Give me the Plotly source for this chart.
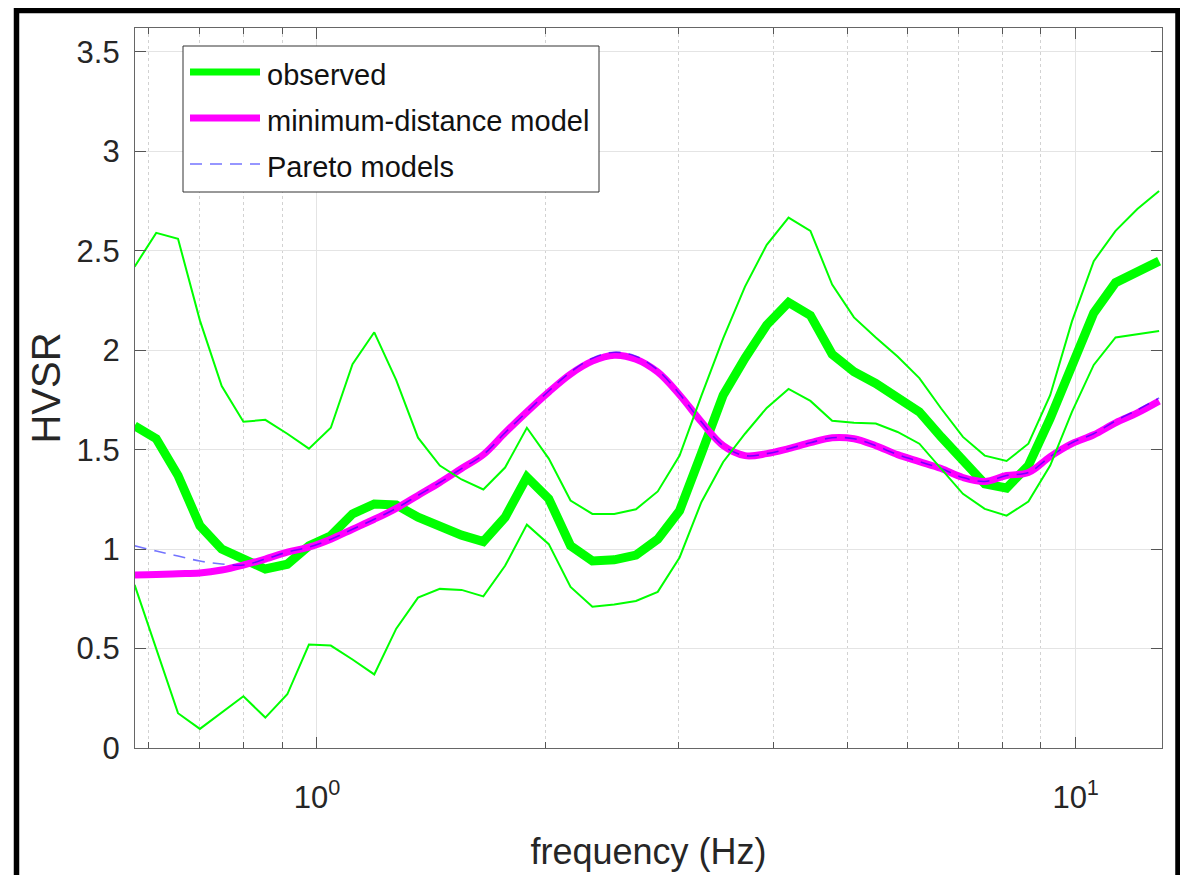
import plotly.graph_objects as go

freq = [0.575, 0.614, 0.656, 0.701, 0.749, 0.800, 0.855, 0.914, 0.976, 1.043,
        1.114, 1.190, 1.272, 1.359, 1.452, 1.551, 1.657, 1.770, 1.891, 2.021,
        2.159, 2.307, 2.465, 2.633, 2.813, 3.006, 3.211, 3.431, 3.666, 3.916,
        4.184, 4.471, 4.776, 5.103, 5.452, 5.825, 6.223, 6.649, 7.103, 7.589,
        8.109, 8.663, 9.256, 9.888, 10.564, 11.287, 12.059, 12.882]

# observed HVSR (mean) and its upper / lower bounds
hvsr_obs = [1.62, 1.555, 1.37, 1.118, 1.0, 0.95, 0.90, 0.924, 1.017, 1.067,
            1.177, 1.227, 1.222, 1.16, 1.11, 1.07, 1.038, 1.16, 1.362, 1.253,
            1.017, 0.94, 0.946, 0.97, 1.05, 1.193, 1.48, 1.774, 1.96, 2.127,
            2.24, 2.175, 1.98, 1.892, 1.833, 1.766, 1.69, 1.564, 1.438, 1.328,
            1.307, 1.42, 1.657, 1.926, 2.187, 2.34, 2.40, 2.448]
hvsr_upper = [2.42, 2.59, 2.56, 2.15, 1.82, 1.64, 1.65, 1.58, 1.505, 1.61,
              1.93, 2.09, 1.85, 1.56, 1.42, 1.35, 1.30, 1.41, 1.61, 1.455,
              1.244, 1.177, 1.177, 1.20, 1.29, 1.47, 1.77, 2.06, 2.32, 2.53,
              2.667, 2.60, 2.33, 2.165, 2.064, 1.968, 1.86, 1.707, 1.564, 1.47,
              1.443, 1.53, 1.774, 2.145, 2.448, 2.60, 2.71, 2.80]
hvsr_lower = [0.82, 0.50, 0.175, 0.096, 0.18, 0.26, 0.153, 0.27, 0.52, 0.515,
              0.445, 0.37, 0.60, 0.756, 0.80, 0.795, 0.762, 0.916, 1.123, 1.025,
              0.81, 0.71, 0.722, 0.739, 0.785, 0.958, 1.236, 1.438, 1.58, 1.71,
              1.805, 1.745, 1.645, 1.635, 1.631, 1.589, 1.53, 1.404, 1.278, 1.202,
              1.168, 1.239, 1.42, 1.69, 1.926, 2.064, 2.08, 2.097]

# minimum-distance model and Pareto models
hvsr_model = [0.87, 0.872, 0.876, 0.88, 0.895, 0.92, 0.95, 0.985, 1.01, 1.05,
              1.10, 1.15, 1.205, 1.27, 1.335, 1.405, 1.475, 1.585, 1.69, 1.79,
              1.88, 1.945, 1.975, 1.955, 1.89, 1.775, 1.64, 1.52, 1.47, 1.48,
              1.505, 1.535, 1.56, 1.555, 1.52, 1.475, 1.44, 1.405, 1.36, 1.34,
              1.37, 1.385, 1.465, 1.53, 1.575, 1.635, 1.685, 1.744]
hvsr_pareto = [1.017, 0.99, 0.965, 0.94, 0.925, 0.92, 0.95, 0.985, 1.01, 1.05,
               1.10, 1.15, 1.205, 1.27, 1.335, 1.405, 1.475, 1.585, 1.69, 1.795,
               1.89, 1.96, 1.99, 1.97, 1.90, 1.78, 1.64, 1.52, 1.47, 1.48,
               1.505, 1.535, 1.56, 1.555, 1.52, 1.475, 1.44, 1.405, 1.36, 1.34,
               1.37, 1.385, 1.465, 1.535, 1.58, 1.645, 1.70, 1.76]

legend_names = ['observed', 'minimum-distance model', 'Pareto models']

GREEN = '#00ff00'
MAGENTA = '#ff00ff'
BLUE = 'rgba(0,0,255,0.55)'
FONT = 'Liberation Sans, Arial, sans-serif'

fig = go.Figure()
fig.add_trace(go.Scatter(x=freq, y=hvsr_obs, mode='lines', line=dict(color=GREEN, width=9),
                         name=legend_names[0]))
fig.add_trace(go.Scatter(x=freq, y=hvsr_model, mode='lines', line=dict(color=MAGENTA, width=7, shape='spline'),
                         name=legend_names[1]))
fig.add_trace(go.Scatter(x=freq, y=hvsr_pareto, mode='lines',
                         line=dict(color=BLUE, width=1.6, dash='12px,8px', shape='spline'),
                         name=legend_names[2]))
fig.add_trace(go.Scatter(x=freq, y=hvsr_upper, mode='lines', line=dict(color=GREEN, width=2),
                         showlegend=False))
fig.add_trace(go.Scatter(x=freq, y=hvsr_lower, mode='lines', line=dict(color=GREEN, width=2),
                         showlegend=False))

# plot area in page pixels: left 135, right 1162, top 28, bottom 748
# (the page body adds an 8px margin all round, so the figure is 1172x867 at 8,8)
W, H = 1027.0, 720.0


def px(x):
    return (x - 135) / W


def py(y):
    return (748 - y) / H


shapes = []
annotations = []
# legend box drawn by hand (MATLAB style, long swatches)
shapes.append(dict(type='rect', xref='paper', yref='paper', x0=px(183), x1=px(599), y0=py(192), y1=py(46),
                   line=dict(color='#333333', width=1), fillcolor='white', layer='above'))
swatches = [(72, GREEN, 7, 'solid'), (118, MAGENTA, 7, 'solid'), (164, BLUE, 1.6, '12px,8px')]
for (yy, col, lw, dash), name in zip(swatches, legend_names):
    shapes.append(dict(type='line', xref='paper', yref='paper', x0=px(190), x1=px(260), y0=py(yy), y1=py(yy),
                       line=dict(color=col, width=lw, dash=dash), layer='above'))
    annotations.append(dict(xref='paper', yref='paper', x=px(265), y=py(yy + 3), xanchor='left', yanchor='middle',
                            text=name, showarrow=False, font=dict(family=FONT, size=29, color='#111111')))

# black frame around the picture
shapes.append(dict(type='rect', xref='paper', yref='paper', x0=px(16.5), x1=px(1178), y0=py(900), y1=py(10.5),
                   line=dict(color='black', width=5.5), layer='above'))

minor_vals = [0.6, 0.7, 0.8, 0.9, 2, 3, 4, 5, 6, 7, 8, 9]

fig.update_layout(
    width=1172, height=867,
    margin=dict(l=127, r=18, t=20, b=127),
    paper_bgcolor='white', plot_bgcolor='white',
    showlegend=False,
    shapes=shapes, annotations=annotations,
    font=dict(family=FONT, color='#262626'),
    xaxis=dict(
        type='log', range=[-0.2398, 1.1138],
        tickvals=[1, 10], ticktext=['10<sup>0</sup>', '10<sup>1</sup>'],
        ticks='inside', ticklen=11, tickcolor='#555555', tickwidth=1,
        showline=True, linecolor='#666666', linewidth=1.2, mirror='ticks',
        showgrid=True, gridcolor='#e4e4e4', gridwidth=1,
        minor=dict(tickvals=minor_vals, ticks='inside', ticklen=6, tickcolor='#555555',
                   showgrid=True, gridcolor='#d2d2d2', griddash='dot', gridwidth=1),
        tickfont=dict(size=31, color='#262626'),
        ticklabelstandoff=22,
        title=dict(text='frequency (Hz)', font=dict(size=36, color='#262626'), standoff=24),
        zeroline=False,
    ),
    yaxis=dict(
        range=[0, 3.62], dtick=0.5, tick0=0,
        ticks='inside', ticklen=11, tickcolor='#555555', tickwidth=1,
        showline=True, linecolor='#666666', linewidth=1.2, mirror='ticks',
        showgrid=True, gridcolor='#e4e4e4', gridwidth=1,
        tickfont=dict(size=31, color='#262626'),
        ticklabelstandoff=8,
        title=dict(text='HVSR', font=dict(size=40, color='#262626'), standoff=3),
        zeroline=False,
    ),
)

fig.write_html('out.html', config={'displayModeBar': False})
